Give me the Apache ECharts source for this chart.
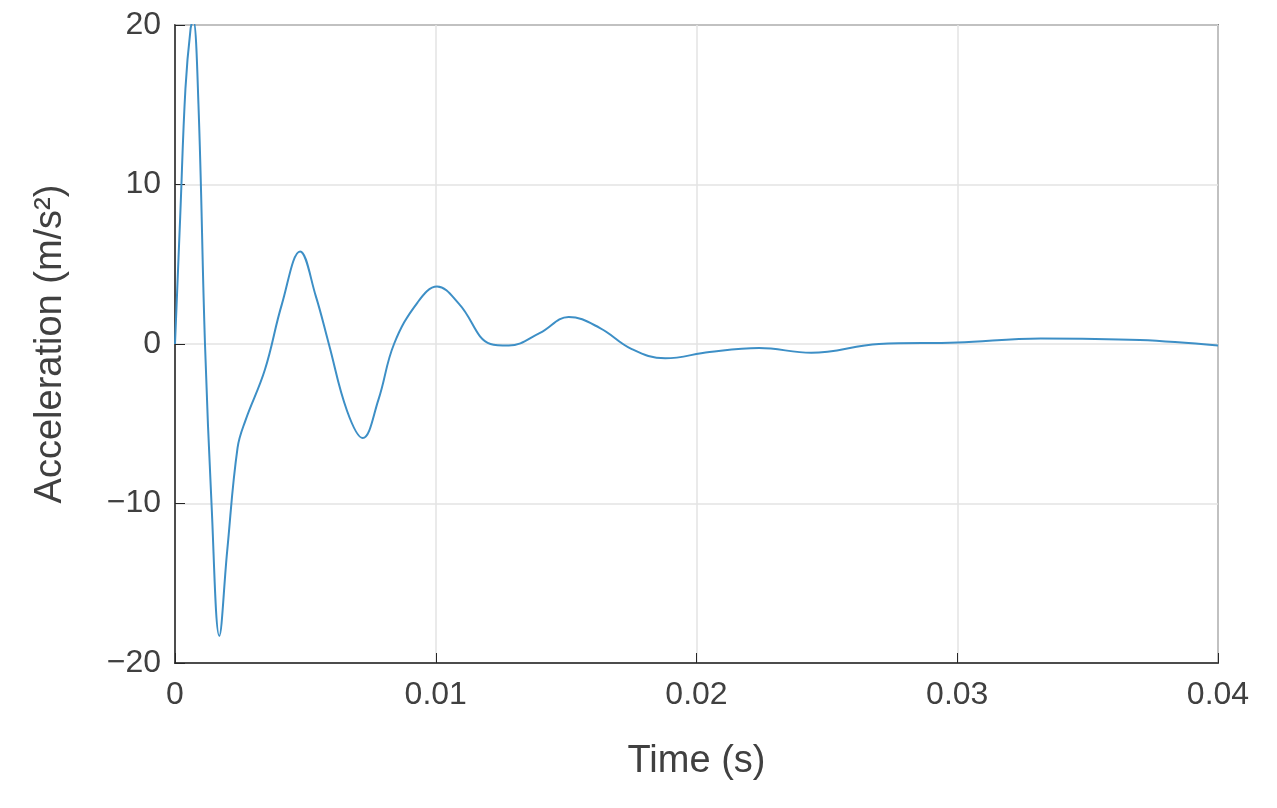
<!DOCTYPE html>
<html>
<head>
<meta charset="utf-8">
<script src="https://cdn.jsdelivr.net/npm/echarts@6/dist/echarts.min.js"></script>
<style>html,body{margin:0;padding:0;background:#fff}#chart{width:1277px;height:808px}</style>
</head>
<body>
<div id="chart"></div>
<script>
// time (s) and acceleration (m/s^2)
var timeVals = [0, 0.0002, 0.0004, 0.0006, 0.0007, 0.0009, 0.00115, 0.0014, 0.0017, 0.002, 0.0024, 0.0027, 0.00345, 0.0041, 0.0048, 0.0054, 0.0059, 0.0066, 0.0072, 0.0078, 0.0084, 0.0093, 0.01005, 0.0109, 0.0121, 0.0128, 0.014, 0.0151, 0.0163, 0.0175, 0.0188, 0.0205, 0.0224, 0.0244, 0.027, 0.030, 0.0332, 0.037, 0.04];
var accelVals = [0, 8, 16, 19.8, 20.3, 15, 0, -10, -18.3, -13, -6.5, -4.8, -1.6, 2.5, 5.8, 3, 0, -4.2, -5.9, -3.5, 0, 2.6, 3.6, 2.5, 0, -0.1, 0.7, 1.7, 1.0, -0.3, -0.9, -0.5, -0.25, -0.55, 0, 0.1, 0.35, 0.25, -0.1];

var seriesData = [];
for (var i = 0; i < timeVals.length; i++) {
    seriesData.push([timeVals[i], accelVals[i]]);
}

var myChart = echarts.init(document.getElementById('chart'));
var font = 'Liberation Sans, Arial, sans-serif';
var option = {
    backgroundColor: '#FFFFFF',
    animation: false,
    grid: {
        left: 175, right: 59, top: 25, bottom: 145,
        show: true, borderColor: '#262626', borderWidth: 1.5
    },
    xAxis: {
        type: 'value', min: 0, max: 0.04, interval: 0.01,
        name: 'Time (s)', nameLocation: 'middle', nameGap: 80,
        nameTextStyle: {fontSize: 38, color: '#404040', fontFamily: font},
        axisLine: {show: true, onZero: false, lineStyle: {color: '#262626', width: 1.5}},
        axisTick: {inside: true, length: 10, lineStyle: {color: '#262626'}},
        axisLabel: {fontSize: 32, color: '#404040', fontFamily: font, margin: 16,
            formatter: function (v) { return v === 0 ? '0' : String(+v.toFixed(2)); }},
        splitLine: {show: true, lineStyle: {color: '#e3e3e3', width: 1.5}}
    },
    yAxis: {
        type: 'value', min: -20, max: 20, interval: 10,
        name: 'Acceleration (m/s²)', nameLocation: 'middle', nameGap: 105,
        nameTextStyle: {fontSize: 38, color: '#404040', fontFamily: font},
        axisLine: {show: true, onZero: false, lineStyle: {color: '#262626', width: 1.5}},
        axisTick: {inside: true, length: 10, lineStyle: {color: '#262626'}},
        axisLabel: {fontSize: 32, color: '#404040', fontFamily: font, margin: 14,
            formatter: function (v) { return v < 0 ? '\u2212' + (-v) : String(v); }},
        splitLine: {show: true, lineStyle: {color: '#e3e3e3', width: 1.5}}
    },
    series: [{
        type: 'line', data: seriesData, smooth: 0.4, symbol: 'none',
        lineStyle: {color: '#3d8fc6', width: 2}
    }]
};
myChart.setOption(option);
</script>
</body>
</html>
